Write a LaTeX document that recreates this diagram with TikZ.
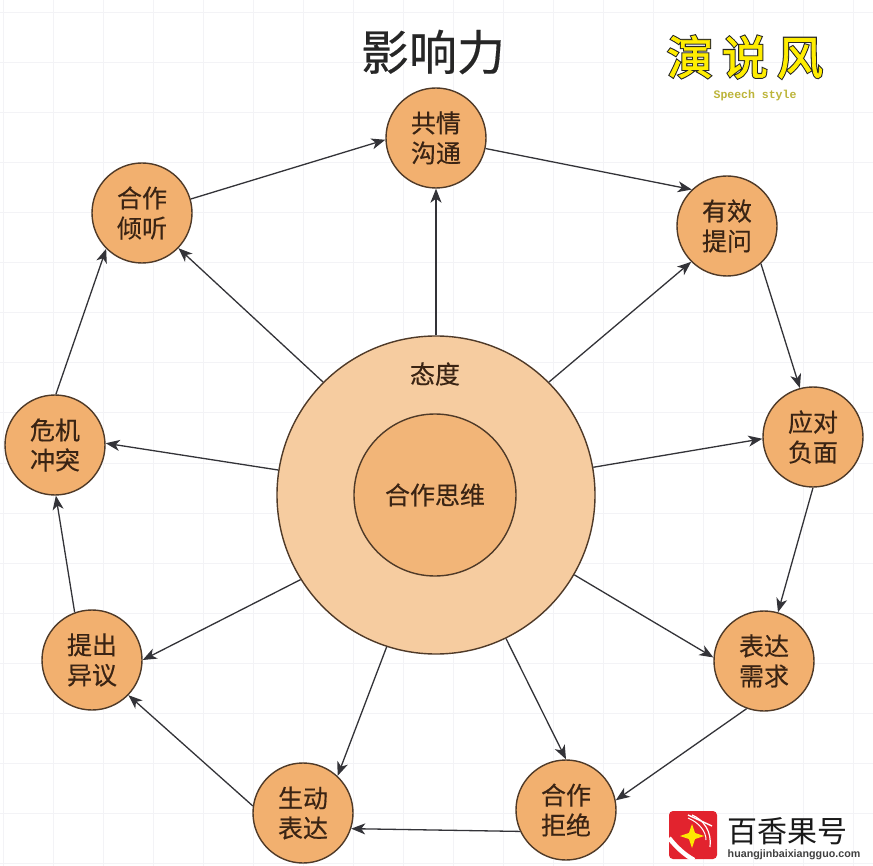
\documentclass[tikz,border=0pt]{standalone}
\usepackage{fontspec}
\setmainfont{Noto Sans CJK SC}[FakeBold=0.35]
\newfontfamily\lgfont{Liberation Sans}
\newfontfamily\lgmono{Liberation Mono}
\newfontfamily\lgthick{Noto Sans CJK SC}[FakeBold=6]
\newfontfamily\lgfillf{Noto Sans CJK SC}[FakeBold=1.5]
\newfontfamily\wmfont{Noto Sans CJK SC}
\usetikzlibrary{arrows.meta,shapes.geometric}
\definecolor{satfill}{HTML}{F2B06F}
\definecolor{outerfill}{HTML}{F6CCA0}
\definecolor{innerfill}{HTML}{F2B578}
\definecolor{edgeb}{HTML}{4F3A28}
\definecolor{txtb}{HTML}{3A2414}
\definecolor{gridc}{HTML}{F3F3F6}
\definecolor{arrowc}{HTML}{333338}
\definecolor{logored}{HTML}{E2232E}
\tikzset{
 sat/.style={circle,draw=edgeb,line width=1.4pt,fill=satfill,minimum size=100pt,inner sep=0pt,align=center,font=\fontsize{25}{30}\selectfont,text=txtb},
 conn/.style={draw=arrowc,line width=1.3pt,-{Stealth[length=14pt,width=11pt,inset=4pt]}},
 logotxt/.style={inner sep=0pt},
}
\begin{document}
\begin{tikzpicture}[x=1pt,y=-1pt]
\useasboundingbox (0,0) rectangle (873,866);
\fill[white] (0,0) rectangle (873,866);
\foreach \i in {0,...,17} {\draw[gridc,line width=1pt] ({3+50*\i},0) -- ({3+50*\i},866);}
\foreach \i in {0,...,17} {\draw[gridc,line width=1pt] (0,{13+50*\i}) -- (873,{13+50*\i});}
\node[font=\fontsize{48}{56}\selectfont,text=black!85] (title) at (433,52) {影响力};
% centre circles
\node[circle,draw=edgeb,line width=1.4pt,fill=outerfill,minimum size=318pt,inner sep=0pt] (outer) at (436,495) {};
\node[circle,draw=edgeb,line width=1.4pt,fill=innerfill,minimum size=162pt,inner sep=0pt,font=\fontsize{25}{30}\selectfont,text=txtb] (inner) at (435,495) {合作思维};
\node[font=\fontsize{25}{30}\selectfont,text=txtb] (attitude) at (435,374) {态度};
% satellites
\node[sat] (s1) at (436,138) {共情\\沟通};
\node[sat] (s2) at (727,226) {有效\\提问};
\node[sat] (s3) at (813,437) {应对\\负面};
\node[sat] (s4) at (764,661) {表达\\需求};
\node[sat] (s5) at (566,810) {合作\\拒绝};
\node[sat] (s6) at (303,813) {生动\\表达};
\node[sat] (s7) at (92,660) {提出\\异议};
\node[sat] (s8) at (55,445) {危机\\冲突};
\node[sat] (s9) at (142,213) {合作\\倾听};
% spokes
\draw[conn] (outer.90) -- (s1.270);
\draw[conn] (outer.45) -- (s2.225);
\draw[conn] (outer.10) -- (s3.182);
\draw[conn] (outer.-30.6) -- (s4.176);
\draw[conn] (outer.-64) -- (s5.90);
\draw[conn] (outer.252) -- (s6.47);
\draw[conn] (outer.212) -- (s7.0);
\draw[conn] (outer.171) -- (s8.2);
\draw[conn] (outer.135) -- (s9.-44);
% ring
\draw[conn] (s1.-12) -- (s2.134);
\draw[conn] (s2.-48) -- (s3.105);
\draw[conn] (s3.-90) -- (s4.74);
\draw[conn] (s4.-110) -- (s5.11);
\draw[conn] (s5.205) -- (s6.-18);
\draw[conn] (s6.172) -- (s7.-44);
\draw[conn] (s7.110) -- (s8.-89);
\draw[conn] (s8.89) -- (s9.225);
\draw[conn] (s9.16) -- (s1.182);
% top-right logo
\node[logotxt,font=\lgthick\fontsize{46}{50}\selectfont,text=black!85] (lg) at (745,57) {演\hspace{9pt}说\hspace{9pt}风};
\node[logotxt,font=\lgfillf\fontsize{46}{50}\selectfont,text=yellow!95!orange] (lg2) at (745,57) {演\hspace{9pt}说\hspace{9pt}风};
\node[logotxt,font=\lgmono\bfseries\fontsize{11.5}{13}\selectfont,text=yellow!70!black] (lgs) at (755,96) {Speech style};
% bottom-right logo
\fill[logored,rounded corners=4pt] (669,811) rectangle (717,859);
\draw[white,line width=4.5pt] (669,838) .. controls (677,848) and (685,855) .. (694,860);
\draw[white,line width=1.4pt] (688,815) -- (712,826);
\draw[white,line width=1.2pt] (692,815) .. controls (704,820) and (712,832) .. (710,847);
\draw[white,line width=1pt] (688,818) .. controls (700,823) and (706,832) .. (706,840);
\node[star,star points=4,star point ratio=2.8,fill=yellow!90!orange,inner sep=0pt,minimum size=24pt] (lgstar) at (692,836) {};
\node[logotxt,font=\wmfont\fontsize{30}{34}\selectfont,text=black!90] (wm) at (787,831) {百香果号};
\node[logotxt,font=\lgfont\bfseries\fontsize{10.7}{13}\selectfont,text=black!75] (url) at (794,855) {huangjinbaixiangguo.com};
\end{tikzpicture}
\end{document}
